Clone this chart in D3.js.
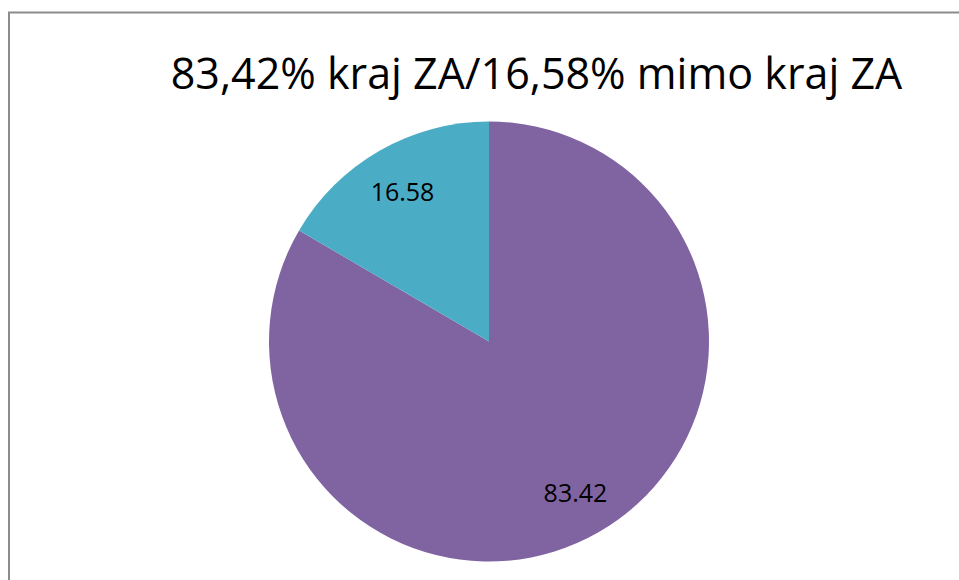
<!DOCTYPE html>
<html>
<head>
<meta charset="utf-8">
<script src="https://cdn.jsdelivr.net/npm/d3@7"></script>
<style>
  body { margin: 0; background: #fff; }
  svg { display: block; }
</style>
</head>
<body>
<svg></svg>
<script>
let categories = ["kraj ZA", "mimo kraj ZA"];
let values = [83.42, 16.58];
let labels = ["83.42", "16.58"];
let colors = ["#8064A2", "#4BACC6"];
let title = "83,42% kraj ZA/16,58% mimo kraj ZA";

window.addEventListener('load', e => {
    drawPie();
});

function drawPie() {
    let width = 959;
    let height = 580;
    let cx = 489;
    let cy = 341.5;
    let radius = 220;

    let svg = d3.select("svg")
        .attr("width", width)
        .attr("height", height);

    // chart frame, runs past the right and bottom edges
    svg.append("rect")
        .attr("x", 9)
        .attr("y", 12.5)
        .attr("width", 1000)
        .attr("height", 700)
        .attr("fill", "none")
        .attr("stroke", "#8c8c8c")
        .attr("stroke-width", 2);

    svg.append("text")
        .attr("x", 536.5)
        .attr("y", 89)
        .attr("text-anchor", "middle")
        .attr("font-family", "Open Sans")
        .attr("font-size", 43)
        .attr("fill", "#000")
        .text(title);

    let pie = d3.pie().sort(null).value(d => d);
    let arcs = pie(values);

    let arc = d3.arc().innerRadius(0).outerRadius(radius);
    let labelArc = d3.arc().innerRadius(radius * 0.79).outerRadius(radius * 0.79);

    let g = svg.append("g")
        .attr("transform", "translate(" + cx + "," + cy + ")");

    g.selectAll(".slice")
        .data(arcs)
        .enter()
        .append("path")
        .attr("class", "slice")
        .attr("d", arc)
        .attr("fill", (d, i) => colors[i]);

    g.selectAll(".label")
        .data(arcs)
        .enter()
        .append("text")
        .attr("class", "label")
        .attr("transform", d => "translate(" + labelArc.centroid(d) + ")")
        .attr("text-anchor", "middle")
        .attr("dominant-baseline", "central")
        .attr("font-family", "Open Sans")
        .attr("font-size", 25)
        .attr("fill", "#000")
        .text((d, i) => labels[i]);
}
</script>
</body>
</html>
